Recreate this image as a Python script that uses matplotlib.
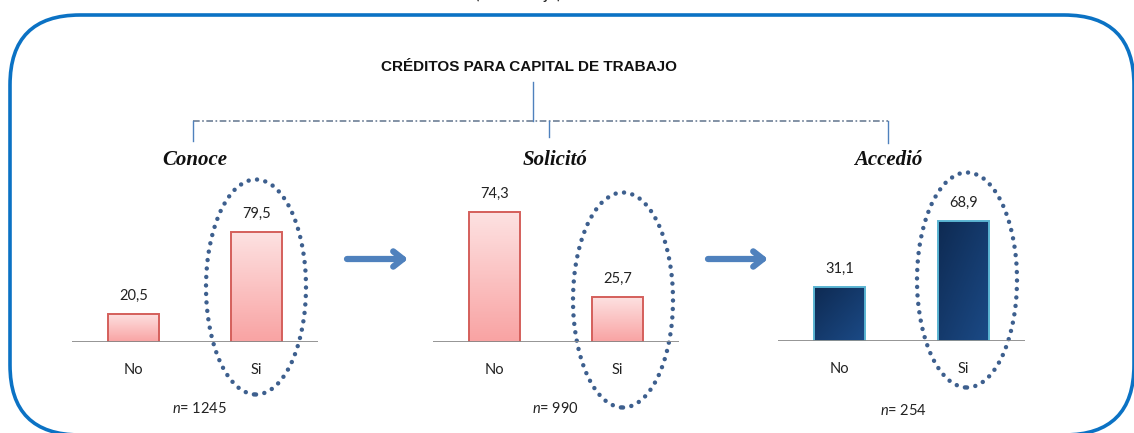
import numpy as np
import matplotlib.pyplot as plt
from matplotlib.patches import Ellipse, FancyBboxPatch
from matplotlib.colors import LinearSegmentedColormap

# ---------------------------
# DATA
# ---------------------------
titulo = "CRÉDITOS PARA CAPITAL DE TRABAJO"
etapas = ["Conoce", "Solicitó", "Accedió"]
categorias = ["No", "Si"]
conoce = [20.5, 79.5]
solicito = [74.3, 25.7]
accedio = [31.1, 68.9]
muestras = [1245, 990, 254]

# ---------------------------
# STYLE
# ---------------------------
W, H = 1134, 433
plt.rcParams["font.family"] = ["Lato", "DejaVu Sans"]
plt.rcParams["mathtext.fontset"] = "custom"
plt.rcParams["mathtext.it"] = "Lato:italic"
plt.rcParams["mathtext.rm"] = "Lato"

azul_borde = "#0b72c4"
azul_flecha = "#4f81bd"
punteado = "#3d5f8e"

rosa = LinearSegmentedColormap.from_list("rosa", ["#f9a3a3", "#fde2e2"])
marino = LinearSegmentedColormap.from_list("marino", ["#1b4a86", "#0e2a52"])

fig = plt.figure(figsize=(W / 100, H / 100), dpi=100)

# overlay in pixel coordinates (measured from the top) for frame, tree and notes
ov = fig.add_axes([0, 0, 1, 1])
ov.set_xlim(0, W)
ov.set_ylim(0, H)
ov.axis("off")


def Y(y):
    return H - y


def px_axes(x0, x1, ybase, ytop=180):
    return fig.add_axes([x0 / W, (H - ybase) / H, (x1 - x0) / W, (ybase - ytop) / H])


def panel(ax, vals, cmap, edge, ymax, n, nx, ny):
    x = np.arange(len(vals))
    bars = ax.bar(x, vals, width=0.41, facecolor="none", edgecolor=edge, linewidth=1.4, zorder=3)
    grad = np.linspace(0, 1, 100).reshape(-1, 1)
    if cmap is marino:
        gx, gy = np.meshgrid(np.linspace(0, 1, 50), np.linspace(0, 1, 100))
        grad = (gy + (1 - gx)) / 2
    for b in bars:
        im = ax.imshow(grad, extent=[b.get_x(), b.get_x() + b.get_width(), 0, b.get_height()],
                       origin="lower", aspect="auto", cmap=cmap, zorder=2)
        im.set_clip_path(b)
    for xi, v in zip(x, vals):
        ax.annotate(f"{v:.1f}".replace(".", ","), (xi, v), xytext=(0, 8), textcoords="offset points",
                    ha="center", va="bottom", fontsize=10.5, color="#222222")
    ax.axhline(0, color="#8c8c8c", lw=1.3, zorder=4)
    ax.set_xlim(-0.5, 1.5)
    ax.set_ylim(0, ymax)
    ax.set_xticks(x, categorias)
    ax.tick_params(axis="x", length=0, pad=15, labelsize=10.5, labelcolor="#222222")
    ax.set_yticks([])
    for s in ax.spines.values():
        s.set_visible(False)
    ax.patch.set_alpha(0)
    ax.text(nx, ny, f"$n$= {n}", transform=ax.transAxes, ha="center", va="center",
            fontsize=10.5, color="#222222")


ax1 = px_axes(72, 318, 342)
ax2 = px_axes(433, 679, 342)
ax3 = px_axes(778, 1025, 341)
panel(ax1, conoce, rosa, "#d45f5b", 117, muestras[0], 0.52, -0.41)
panel(ax2, solicito, rosa, "#d45f5b", 92.4, muestras[1], 0.50, -0.41)
panel(ax3, accedio, marino, "#5ab4d2", 92.6, muestras[2], 0.51, -0.43)

# rounded frame, its bottom runs just past the lower edge
frame = FancyBboxPatch((10, Y(435)), 1124, 420, boxstyle="round,pad=0,rounding_size=70",
                       fill=False, edgecolor=azul_borde, lw=2.6, zorder=1)
ov.add_patch(frame)

# header text cut by the top edge
ov.text(518, Y(-6), "(Porcentaje)", ha="center", va="center", fontsize=12, color="#222222")

# title and tree connectors
ov.text(529, Y(67), titulo, ha="center", va="center", fontsize=11, fontweight="bold",
        family=["Liberation Sans", "DejaVu Sans"], color="#111111")
ov.plot([533, 533], [Y(82), Y(121)], color=azul_flecha, lw=1)
ov.plot([193, 888], [Y(121), Y(121)], color="#6d7f96", lw=1.2, ls=(0, (4, 1.5, 1, 1.5)))
for xt, y1 in zip([193, 549, 888], [141, 137, 143]):
    ov.plot([xt, xt], [Y(121), Y(y1)], color=azul_flecha, lw=1)
for xt, et in zip([195, 555, 888], etapas):
    ov.text(xt, Y(160), et, ha="center", va="center", fontsize=15, fontweight="bold", style="italic",
            family=["Liberation Serif", "DejaVu Serif"], color="#111111")

# arrows between stages
for xa, xb in [(347, 408), (708, 768)]:
    ov.annotate("", xy=(xb, Y(259)), xytext=(xa, Y(259)),
                arrowprops=dict(arrowstyle="->,head_length=0.7,head_width=0.55", lw=4.5,
                                color=azul_flecha, shrinkA=0, shrinkB=0))

# dotted ellipses around the "Si" bars
for cx, cy in [(256, 287), (623, 300), (967, 280)]:
    ov.add_patch(Ellipse((cx, Y(cy)), 100, 215, fill=False, edgecolor=punteado, lw=3.2,
                         ls=(0, (0.01, 1.9)), capstyle="round", zorder=5))

fig.savefig("out.png", dpi=100)
